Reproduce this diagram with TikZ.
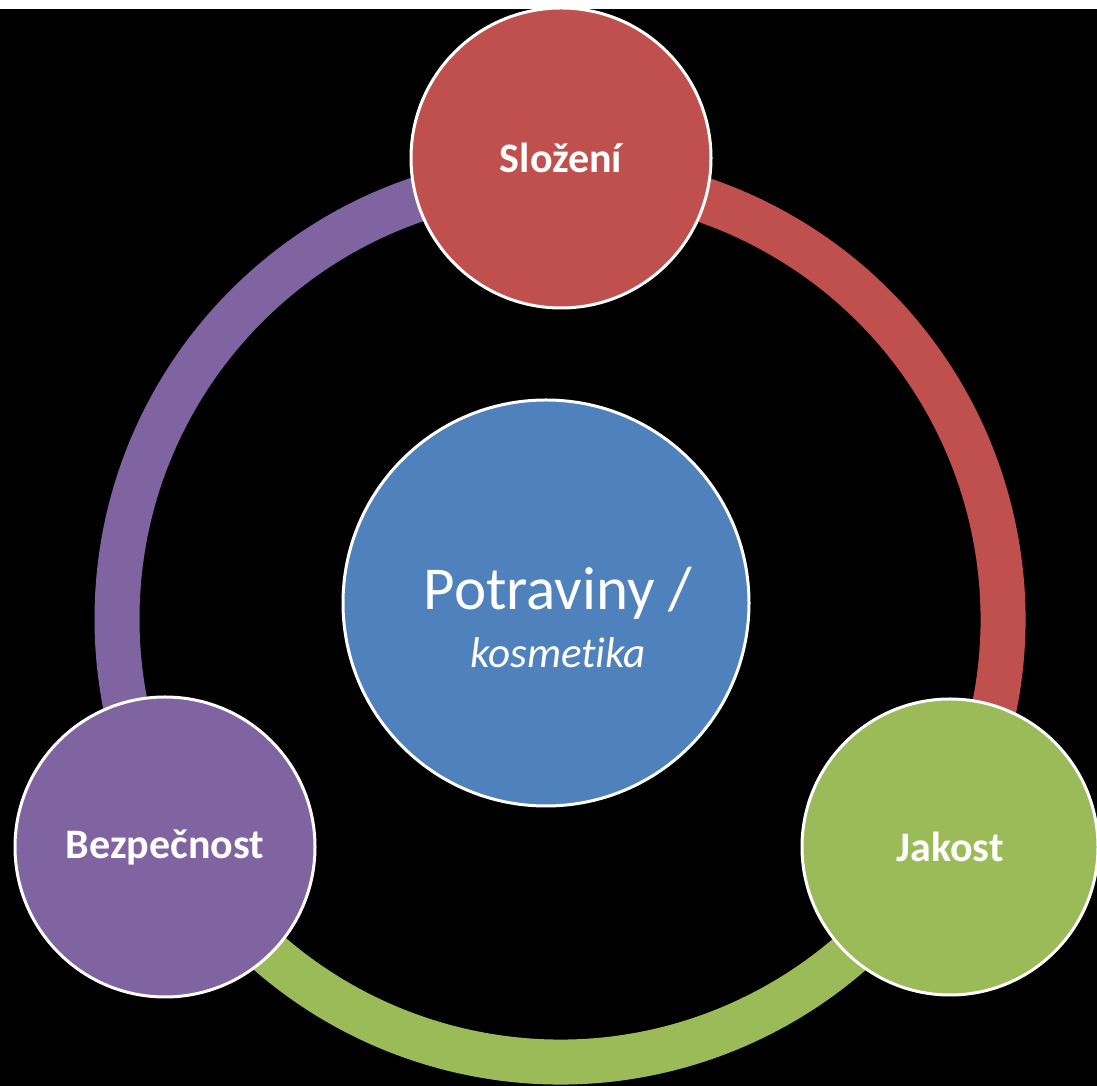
\documentclass[tikz,border=0pt]{standalone}
\usepackage{fontspec}
\setmainfont{Carlito}[Ligatures=NoCommon]
\definecolor{redring}{HTML}{C0504D}
\definecolor{greenring}{HTML}{9BBB59}
\definecolor{purplering}{HTML}{8064A2}
\definecolor{bluehub}{HTML}{4F81BD}
\tikzset{
    bubble/.style={circle,draw=white,line width=3pt,minimum size=300pt,inner sep=0pt,text=white,font=\fontsize{42}{50}\selectfont\bfseries},
    hub/.style={circle,draw=white,line width=3pt,minimum size=406pt,inner sep=0pt,fill=bluehub},
    hubtext/.style={text=white,align=center,inner sep=0pt,font=\fontsize{43}{58}\selectfont},
    ring/.style={line width=45pt}
}

\begin{document}
\begin{tikzpicture}[x=1pt,y=1pt]
            \useasboundingbox (0,0) rectangle (1097,1086);
            \clip (0,0) rectangle (1097,1086);
            \fill [black] (0,0) rectangle (1097,1086);
            \fill [white] (0,1077) rectangle (1097,1086);
            \coordinate (mid) at (560,467);
            % the three parts of the ring
            \draw [ring,purplering] ([shift={(90:443)}]mid) arc [start angle=90,end angle=210,radius=443];
            \draw [ring,greenring] ([shift={(210:443)}]mid) arc [start angle=210,end angle=330,radius=443];
            \draw [ring,redring] ([shift={(-30:443)}]mid) arc [start angle=-30,end angle=90,radius=443];
            \node [bubble,fill=redring] (slozeni) at (561,928) {Složení};
            \node [bubble,fill=purplering] (bezpecnost) at (165,239) {Bezpečnost};
            \node [bubble,fill=greenring,minimum size=296pt] (jakost) at (950,239) {Jakost};
            \node [hub] (hub) at (546,483) {};
            \node [hubtext] (hubtext) at (558,469) {{\fontsize{61}{58}\selectfont Potraviny /}\\\textit{kosmetika}};
        \end{tikzpicture}
\end{document}
